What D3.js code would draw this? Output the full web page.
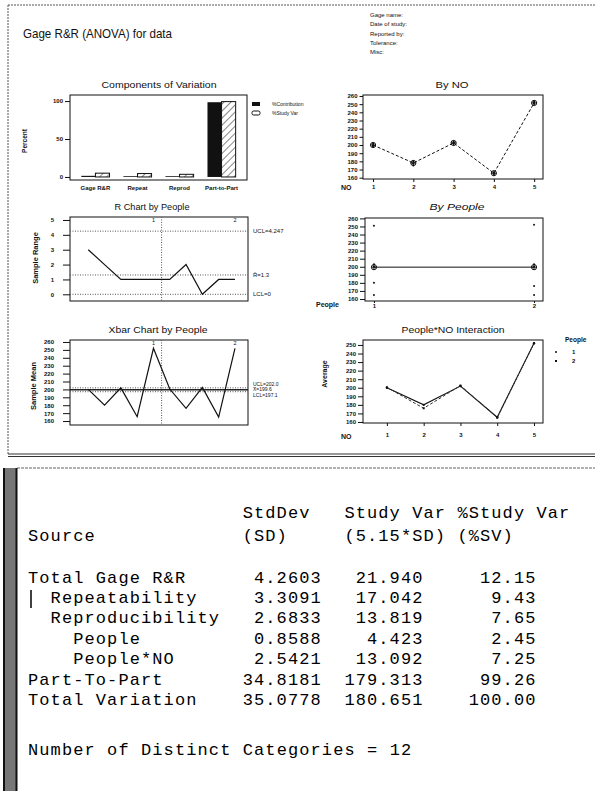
<!DOCTYPE html>
<html>
<head>
<meta charset="utf-8">
<script src="https://cdn.jsdelivr.net/npm/d3@7"></script>
<style>
  body { margin: 0; background: #fff; }
  svg { display: block; }
  text { font-family: 'Liberation Sans', Arial, sans-serif; fill: #111; }
  .axis path, .axis line { stroke: #111; stroke-width: 1; }
  .axis text { font-size: 6px; font-weight: bold; font-family: 'Liberation Sans', Arial, sans-serif; }
  .mono { font-family: 'Liberation Mono', 'Courier New', monospace; font-size: 17px; letter-spacing: 1.1px; fill: #000; }
</style>
</head>
<body>
<svg id="chart" width="595" height="791"></svg>
<script>
// components of variation (percent)
var components = ['Gage R&R', 'Repeat', 'Reprod', 'Part-to-Part']
var pctContribution = [1.5, 1, 1, 98.5]
var pctStudyVarBars = [5, 4.5, 3.5, 99.3]

// parts and operators
var parts = [1, 2, 3, 4, 5]
var people = [1, 2]

// by NO: every reading per part and the part means
var partReadings = [
    [198.5, 201.5, 199, 200],
    [178, 180, 175, 177],
    [201.5, 202.5, 203, 204],
    [164.5, 165.5, 165, 166],
    [250.5, 251.5, 251, 253]
]
var partMeans = [200, 178, 202.5, 165.5, 251.5]

// by people: readings per operator and operator means
var peopleReadings = [
    [251, 203, 200, 180, 165],
    [252, 203, 200, 176, 165]
]
var peopleMeans = [199.5, 199.5]

// subgroup ranges and means, operator 1 then operator 2
var sampleRanges = [3, 2, 1, 1, 1, 1, 2, 0, 1, 1]
var op1Means = [200, 180, 202, 165.5, 252]
var op2Means = [200.5, 176, 202.5, 165, 252]

// control limits
var rLimits = [4.247, 1.3, 0]
var rLimitLabels = ['UCL=4.247', 'R\u0304=1.3', 'LCL=0']
var xbarLimits = [202.0, 199.6, 197.1]
var xbarLimitLabels = ['UCL=202.0', 'X\u0304=199.6', 'LCL=197.1']

// header fields
var headerFields = ['Gage name:', 'Date of study:', 'Reported by:', 'Tolerance:', 'Misc:']

// session window table
var sources = ['Total Gage R&R', 'Repeatability', 'Reproducibility', 'People', 'People*NO', 'Part-To-Part', 'Total Variation']
var sourceLevel = [0, 1, 1, 2, 2, 0, 0]
var stdDev = [4.2603, 3.3091, 2.6833, 0.8588, 2.5421, 34.8181, 35.0778]
var studyVar = [21.940, 17.042, 13.819, 4.423, 13.092, 179.313, 180.651]
var pctStudyVar = [12.15, 9.43, 7.65, 2.45, 7.25, 99.26, 100.00]
var distinctCategories = 12

var svg = d3.select('#chart')

// hatch for the study var bars
svg.append('defs').append('pattern')
    .attr('id', 'hatch')
    .attr('patternUnits', 'userSpaceOnUse')
    .attr('width', 5)
    .attr('height', 5)
    .attr('patternTransform', 'rotate(45)')
    .append('line')
    .attr('x1', 0).attr('y1', 0).attr('x2', 0).attr('y2', 5)
    .attr('stroke', '#111')
    .attr('stroke-width', 1)

// outer frames
svg.append('line').attr('x1', 8).attr('x2', 595).attr('y1', 5).attr('y2', 5)
    .attr('stroke', '#555').attr('stroke-dasharray', '2,1')
svg.append('line').attr('x1', 8).attr('x2', 8).attr('y1', 5).attr('y2', 455)
    .attr('stroke', '#555').attr('stroke-dasharray', '2,1')
svg.append('line').attr('x1', 8).attr('x2', 595).attr('y1', 454).attr('y2', 454).attr('stroke', '#333')
svg.append('line').attr('x1', 8).attr('x2', 595).attr('y1', 456.5).attr('y2', 456.5).attr('stroke', '#333')

svg.append('text')
    .attr('x', 23).attr('y', 38)
    .attr('textLength', 149).attr('lengthAdjust', 'spacingAndGlyphs')
    .style('font-size', '13px')
    .text('Gage R&R (ANOVA) for data')

svg.selectAll('.hdr')
    .data(headerFields)
    .enter().append('text')
    .attr('class', 'hdr')
    .attr('x', 370)
    .attr('y', function (d, i) { return 17 + i * 9.3 })
    .style('font-size', '6px')
    .text(function (d) { return d })

function title(x, y, len, txt, italic) {
    svg.append('text')
        .attr('x', x).attr('y', y)
        .attr('text-anchor', 'middle')
        .attr('textLength', len).attr('lengthAdjust', 'spacingAndGlyphs')
        .style('font-size', '9.5px')
        .style('font-style', italic ? 'italic' : null)
        .text(txt)
}

function axisTitle(x, y, txt, size, rotate) {
    svg.append('text')
        .attr('transform', 'translate(' + x + ',' + y + ')' + (rotate ? ' rotate(-90)' : ''))
        .attr('text-anchor', rotate ? 'middle' : 'start')
        .attr('dy', '0.35em')
        .style('font-size', size + 'px')
        .style('font-weight', 'bold')
        .text(txt)
}

function box(b) {
    svg.append('rect')
        .attr('x', b.x0).attr('y', b.y0)
        .attr('width', b.x1 - b.x0).attr('height', b.y1 - b.y0)
        .attr('fill', 'none').attr('stroke', '#111')
}

function yAxis(b, y, ticks, size, pad) {
    var g = svg.append('g')
        .attr('class', 'axis')
        .attr('transform', 'translate(' + b.x0 + ',0)')
        .call(d3.axisLeft(y).tickValues(ticks).tickFormat(d3.format('d')).tickSize(size).tickPadding(pad))
    g.select('.domain').remove()
}

function crossMarker(g, x, y) {
    g.append('circle').attr('cx', x).attr('cy', y).attr('r', 2.6)
        .attr('fill', 'none').attr('stroke', '#111')
    g.append('line').attr('x1', x - 2.6).attr('x2', x + 2.6).attr('y1', y).attr('y2', y).attr('stroke', '#111')
    g.append('line').attr('x1', x).attr('x2', x).attr('y1', y - 2.6).attr('y2', y + 2.6).attr('stroke', '#111')
}

// ---- components of variation
var cb = { x0: 70, x1: 247, y0: 95, y1: 180 }
title(159, 88, 115, 'Components of Variation')
var xComp = d3.scaleBand().domain(components).range([cb.x0, cb.x1])
    .paddingInner(0.33).paddingOuter(0.27)
var yComp = d3.scaleLinear().domain([-4, 108]).range([cb.y1, cb.y0])
var half = xComp.bandwidth() / 2

svg.selectAll('.contrib')
    .data(pctContribution)
    .enter().append('rect')
    .attr('x', function (d, i) { return xComp(components[i]) })
    .attr('y', function (d) { return yComp(d) })
    .attr('width', half)
    .attr('height', function (d) { return yComp(0) - yComp(d) })
    .attr('fill', '#111')
svg.selectAll('.sv')
    .data(pctStudyVarBars)
    .enter().append('rect')
    .attr('x', function (d, i) { return xComp(components[i]) + half })
    .attr('y', function (d) { return yComp(d) })
    .attr('width', half)
    .attr('height', function (d) { return yComp(0) - yComp(d) })
    .attr('fill', 'url(#hatch)')
    .attr('stroke', '#111')
box(cb)
yAxis(cb, yComp, [0, 50, 100], 5, 2)
svg.append('g')
    .attr('class', 'axis')
    .attr('transform', 'translate(0,' + cb.y1 + ')')
    .call(d3.axisBottom(xComp).tickSize(0).tickPadding(6))
    .select('.domain').remove()
axisTitle(25, 141, 'Percent', 6.5, true)

// legend
svg.append('rect').attr('x', 252).attr('y', 102).attr('width', 8).attr('height', 4).attr('fill', '#111')
svg.append('rect').attr('x', 252).attr('y', 111).attr('width', 8).attr('height', 4)
    .attr('rx', 1.5).attr('fill', '#fff').attr('stroke', '#111')
svg.append('text').attr('x', 272).attr('y', 106).style('font-size', '5px').text('%Contribution')
svg.append('text').attr('x', 272).attr('y', 115).style('font-size', '5px').text('%Study Var')

// ---- by NO
var nb = { x0: 363, x1: 543, y0: 95, y1: 179 }
title(452, 88, 33, 'By NO')
var xNo = d3.scaleLinear().domain([0.75, 5.22]).range([nb.x0, nb.x1])
var yNo = d3.scaleLinear().domain([158.4, 261.2]).range([nb.y1, nb.y0])
box(nb)
yAxis(nb, yNo, d3.range(160, 261, 10), 3.5, 2)
svg.append('g')
    .attr('class', 'axis')
    .attr('transform', 'translate(0,' + nb.y1 + ')')
    .call(d3.axisBottom(xNo).tickValues(parts).tickFormat(d3.format('d')).tickSize(3).tickPadding(3))
    .select('.domain').remove()
axisTitle(341, 188, 'NO', 7, false)

partReadings.forEach(function (vals, i) {
    vals.forEach(function (v) {
        svg.append('circle').attr('cx', xNo(parts[i])).attr('cy', yNo(v)).attr('r', 1).attr('fill', '#111')
    })
})
svg.append('path')
    .datum(partMeans)
    .attr('fill', 'none').attr('stroke', '#111').attr('stroke-dasharray', '3,2')
    .attr('d', d3.line().x(function (d, i) { return xNo(parts[i]) }).y(function (d) { return yNo(d) }))
var gNo = svg.append('g')
partMeans.forEach(function (d, i) { crossMarker(gNo, xNo(parts[i]), yNo(d)) })

// ---- R chart by people
var xIdx = d3.scaleLinear().domain([-0.12, 10.8]).range([70, 248])
var rb = { x0: 70, x1: 248, y0: 217, y1: 301 }
title(152, 210, 75, 'R Chart by People')
var yR = d3.scaleLinear().domain([-0.45, 5.2]).range([rb.y1, rb.y0])
box(rb)
yAxis(rb, yR, [0, 1, 2, 3, 4, 5], 7, 9)
axisTitle(35, 258, 'Sample Range', 7.5, true)

// limit lines, labels stacked at the right edge
function limitLines(b, y, limits, labels, centerSolid, labelSize, labelY) {
    limits.forEach(function (v, i) {
        var solid = centerSolid && i === 1
        svg.append('line')
            .attr('x1', b.x0).attr('x2', b.x1).attr('y1', y(v)).attr('y2', y(v))
            .attr('stroke', solid ? '#222' : '#555')
            .attr('stroke-width', solid ? 1.5 : 1)
            .attr('stroke-dasharray', solid ? null : '1,1.5')
        svg.append('text')
            .attr('x', b.x1 + 5).attr('y', labelY ? labelY(v, i) : y(v)).attr('dy', '0.35em')
            .style('font-size', labelSize + 'px')
            .text(labels[i])
    })
}

function groupMarks(b) {
    svg.append('line')
        .attr('x1', xIdx(5.5)).attr('x2', xIdx(5.5)).attr('y1', b.y0).attr('y2', b.y1)
        .attr('stroke', '#555').attr('stroke-dasharray', '1,1.5')
    people.forEach(function (p) {
        svg.append('text')
            .attr('x', xIdx(p * 5)).attr('y', b.y0 + 5)
            .attr('text-anchor', 'middle')
            .style('font-size', '5.5px')
            .text(p)
    })
}

limitLines(rb, yR, rLimits, rLimitLabels, false, 6)
groupMarks(rb)
svg.append('path')
    .datum(sampleRanges)
    .attr('fill', 'none').attr('stroke', '#111').attr('stroke-width', 1.2)
    .attr('d', d3.line().x(function (d, i) { return xIdx(i + 1) }).y(function (d) { return yR(d) }))

// ---- by people
var pb = { x0: 365, x1: 543, y0: 218, y1: 301 }
title(457, 210, 55, 'By People', true)
var xP = d3.scaleLinear().domain([0.944, 2.056]).range([pb.x0, pb.x1])
var yP = d3.scaleLinear().domain([157.5, 260.5]).range([pb.y1, pb.y0])
box(pb)
yAxis(pb, yP, d3.range(160, 261, 10), 5, 2)
svg.append('g')
    .attr('class', 'axis')
    .attr('transform', 'translate(0,' + pb.y1 + ')')
    .call(d3.axisBottom(xP).tickValues(people).tickFormat(d3.format('d')).tickSize(2).tickPadding(1))
    .select('.domain').remove()
axisTitle(316, 305, 'People', 7, false)
peopleReadings.forEach(function (vals, i) {
    vals.forEach(function (v) {
        svg.append('circle').attr('cx', xP(people[i])).attr('cy', yP(v)).attr('r', 1).attr('fill', '#111')
    })
})
svg.append('path')
    .datum(peopleMeans)
    .attr('fill', 'none').attr('stroke', '#111')
    .attr('d', d3.line().x(function (d, i) { return xP(people[i]) }).y(function (d) { return yP(d) }))
var gP = svg.append('g')
peopleMeans.forEach(function (d, i) { crossMarker(gP, xP(people[i]), yP(d)) })

// ---- xbar chart by people
var xb = { x0: 70, x1: 248, y0: 340, y1: 425 }
title(158, 333, 99, 'Xbar Chart by People')
var yX = d3.scaleLinear().domain([155, 262.5]).range([xb.y1, xb.y0])
box(xb)
yAxis(xb, yX, d3.range(160, 261, 10), 7, 9)
axisTitle(33, 386, 'Sample Mean', 7.5, true)
limitLines(xb, yX, xbarLimits, xbarLimitLabels, true, 5, function (v, i) {
    return yX(xbarLimits[1]) + (i - 1) * 5.2
})
groupMarks(xb)
svg.append('path')
    .datum(op1Means.concat(op2Means))
    .attr('fill', 'none').attr('stroke', '#111').attr('stroke-width', 1.2)
    .attr('d', d3.line().x(function (d, i) { return xIdx(i + 1) }).y(function (d) { return yX(d) }))

// ---- people*NO interaction
var ib = { x0: 363, x1: 543, y0: 340, y1: 423 }
title(453, 333, 103, 'People*NO Interaction')
var xI = d3.scaleLinear().domain([0.35, 5.245]).range([ib.x0, ib.x1])
var yI = d3.scaleLinear().domain([158.8, 255.8]).range([ib.y1, ib.y0])
box(ib)
yAxis(ib, yI, d3.range(160, 251, 10), 5, 2)
svg.append('g')
    .attr('class', 'axis')
    .attr('transform', 'translate(0,' + ib.y1 + ')')
    .call(d3.axisBottom(xI).tickValues(parts).tickFormat(d3.format('d')).tickSize(3).tickPadding(7))
    .select('.domain').remove()
axisTitle(341, 437, 'NO', 7, false)
axisTitle(325, 374, 'Average', 7, true)

var lineI = d3.line().x(function (d, i) { return xI(parts[i]) }).y(function (d) { return yI(d) })
svg.append('path').datum(op1Means)
    .attr('fill', 'none').attr('stroke', '#111').attr('stroke-width', 1.1).attr('d', lineI)
svg.append('path').datum(op2Means)
    .attr('fill', 'none').attr('stroke', '#333').attr('stroke-dasharray', '3,2').attr('d', lineI)
op1Means.forEach(function (d, i) {
    svg.append('circle').attr('cx', xI(parts[i])).attr('cy', yI(d)).attr('r', 1.2).attr('fill', '#111')
})
op2Means.forEach(function (d, i) {
    svg.append('rect').attr('x', xI(parts[i]) - 1).attr('y', yI(d) - 1).attr('width', 2).attr('height', 2).attr('fill', '#111')
})

svg.append('text').attr('x', 565).attr('y', 342).style('font-size', '6.5px').style('font-weight', 'bold').text('People')
people.forEach(function (p, i) {
    var y = 352 + i * 9
    if (i === 0) {
        svg.append('circle').attr('cx', 556).attr('cy', y).attr('r', 1).attr('fill', '#111')
    } else {
        svg.append('rect').attr('x', 555).attr('y', y - 1).attr('width', 2).attr('height', 2).attr('fill', '#111')
    }
    svg.append('text').attr('x', 572).attr('y', y).attr('dy', '0.35em')
        .style('font-size', '6px').style('font-weight', 'bold').text(p)
})

// ---- session window table
svg.append('line').attr('x1', 17).attr('x2', 595).attr('y1', 468).attr('y2', 468)
    .attr('stroke', '#666').attr('stroke-dasharray', '3,1')
svg.append('rect').attr('x', 3).attr('y', 468).attr('width', 14).attr('height', 323).attr('fill', '#777')
svg.append('line').attr('x1', 4).attr('x2', 4).attr('y1', 468).attr('y2', 791).attr('stroke', '#111').attr('stroke-width', 2)
svg.append('line').attr('x1', 16.5).attr('x2', 16.5).attr('y1', 468).attr('y2', 791).attr('stroke', '#111').attr('stroke-width', 2)

var cw = 11.3
var tx0 = 28
function col(c) { return tx0 + c * cw }
function monoText(c, y, s) {
    svg.append('text').attr('class', 'mono').attr('x', col(c)).attr('y', y).text(s)
}
function rightText(endCol, y, s) {
    monoText(endCol - s.length + 1, y, s)
}

monoText(19, 518, 'StdDev')
monoText(28, 518, 'Study Var')
monoText(38, 518, '%Study Var')
monoText(0, 541, 'Source')
monoText(19, 541, '(SD)')
monoText(28, 541, '(5.15*SD)')
monoText(38, 541, '(%SV)')

sources.forEach(function (s, i) {
    var y = 582.5 + i * 20.4
    monoText(sourceLevel[i] * 2, y, s)
    rightText(25, y, d3.format('.4f')(stdDev[i]))
    rightText(34, y, d3.format('.3f')(studyVar[i]))
    rightText(44, y, d3.format('.2f')(pctStudyVar[i]))
})
// text cursor
svg.append('line').attr('x1', 31).attr('x2', 31).attr('y1', 590).attr('y2', 608).attr('stroke', '#000').attr('stroke-width', 1.5)

monoText(0, 755, 'Number of Distinct Categories = ' + distinctCategories)
</script>
</body>
</html>
